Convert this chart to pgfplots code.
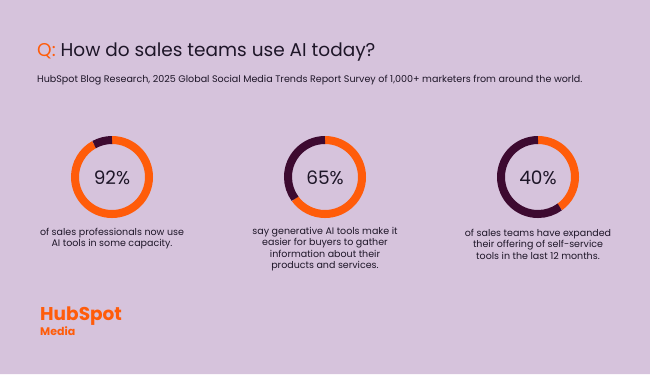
\documentclass[border=0pt]{standalone}
\usepackage{pgfplots}
\pgfplotsset{compat=1.18}
\usepackage{fontspec}
\setmainfont{Poppins}
\definecolor{bg}{HTML}{D6C3DC}
\definecolor{hsorange}{HTML}{FF5C0A}
\definecolor{hsdark}{HTML}{3D0A30}
\definecolor{txt}{HTML}{1E1628}
\newcommand{\desc}[1]{{\fontsize{9.5bp}{11.5bp}\selectfont\begin{tabular}[t]{@{}c@{}}#1\end{tabular}}}
\begin{document}
\begin{tikzpicture}
\begin{axis}[
  scale only axis, width=650bp, height=374bp,
  xmin=0, xmax=650, ymin=0, ymax=374, y dir=reverse,
  hide axis, clip=false, anchor=origin, at={(0,0)}]
% background
\addplot[fill=bg, draw=none] coordinates {(0,0) (650,0) (650,374) (0,374)} \closedcycle;
% donut 1: 92%
\draw[hsorange, line width=8bp] (axis cs:112,140) arc[start angle=90, delta angle=-331.2, radius=37bp];
\draw[hsdark, line width=8bp] (axis cs:112,140) arc[start angle=90, delta angle=28.8, radius=37bp];
% donut 2: 65%
\draw[hsorange, line width=8bp] (axis cs:325,140) arc[start angle=90, delta angle=-234, radius=37bp];
\draw[hsdark, line width=8bp] (axis cs:325,140) arc[start angle=90, delta angle=126, radius=37bp];
% donut 3: 40%
\draw[hsorange, line width=8bp] (axis cs:538,140) arc[start angle=90, delta angle=-144, radius=37bp];
\draw[hsdark, line width=8bp] (axis cs:538,140) arc[start angle=90, delta angle=216, radius=37bp];
% titles
\node[anchor=base west, inner sep=0pt, font=\fontsize{18.5bp}{22bp}\selectfont] at (axis cs:37,56.7)
  {\textcolor{hsorange}{Q:} \textcolor{txt}{How do sales teams use AI today?}};
\node[anchor=base west, inner sep=0pt, text=txt, font=\fontsize{9.55bp}{11bp}\selectfont] at (axis cs:37,82.7)
  {HubSpot Blog Research, 2025 Global Social Media Trends Report Survey of 1,000+ marketers from around the world.};
% percentages
\node[anchor=base, inner sep=0pt, text=txt, font=\fontsize{18.5bp}{20bp}\selectfont] at (axis cs:112,184) {92\%};
\node[anchor=base, inner sep=0pt, text=txt, font=\fontsize{18.5bp}{20bp}\selectfont] at (axis cs:325,184) {65\%};
\node[anchor=base, inner sep=0pt, text=txt, font=\fontsize{18.5bp}{20bp}\selectfont] at (axis cs:538,184) {40\%};
% descriptions
\node[anchor=base, inner sep=0pt, text=txt] at (axis cs:112,235)
  {\desc{of sales professionals now use\\AI tools in some capacity.}};
\node[anchor=base, inner sep=0pt, text=txt] at (axis cs:325,234)
  {\desc{say generative AI tools make it\\easier for buyers to gather\\information about their\\products and services.}};
\node[anchor=base, inner sep=0pt, text=txt] at (axis cs:538,236)
  {\desc{of sales teams have expanded\\their offering of self-service\\tools in the last 12 months.}};
% logo
\node[anchor=base west, inner sep=0pt, text=hsorange, font=\fontsize{18.5bp}{22bp}\selectfont\bfseries] at (axis cs:40,320) {HubSpot};
\node[anchor=base west, inner sep=0pt, text=hsorange, font=\fontsize{11bp}{13bp}\selectfont\bfseries] at (axis cs:40,335) {Media};
\end{axis}
\end{tikzpicture}
\end{document}
